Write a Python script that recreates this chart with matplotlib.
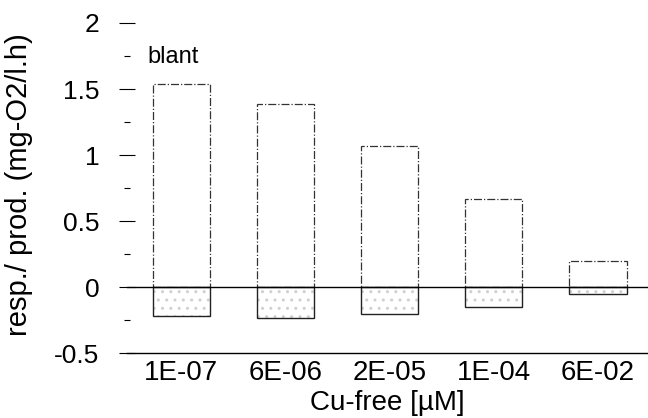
import numpy as np
import matplotlib.pyplot as plt
from matplotlib.ticker import MultipleLocator

#%% data
conc_labels = ['1E-07', '6E-06', '2E-05', '1E-04', '6E-02']
resp_pos = [1.54, 1.39, 1.07, 0.67, 0.20]     # production (above zero)
resp_neg = [-0.22, -0.23, -0.20, -0.15, -0.05]  # respiration (below zero)

plt.rcParams['font.family'] = ['Liberation Sans', 'DejaVu Sans']

fig = plt.figure(figsize=(6.48, 4.18), dpi=100)
ax = fig.add_axes([0.196, 0.155, 0.804, 0.79])

x = np.arange(len(conc_labels))
w = 0.55
ax.bar(x, resp_pos, width=w, facecolor='white', edgecolor='#333333',
       linewidth=0.9, linestyle='-.')
# faint stipple inside the negative bars, then the outline on top
ax.bar(x, resp_neg, width=w, facecolor='white', edgecolor='#d0d0d0',
       linewidth=0, hatch='..')
ax.bar(x, resp_neg, width=w, facecolor='none', edgecolor='#222222',
       linewidth=1.0)

ax.axhline(0, color='black', linewidth=1.0)

ax.set_xlim(-0.52, 4.48)
ax.set_ylim(-0.5, 2.0)
ax.set_xticks(x)
ax.set_xticklabels(conc_labels, fontsize=20)
ax.yaxis.set_minor_locator(MultipleLocator(0.25))
ax.set_yticks([-0.5, 0, 0.5, 1, 1.5, 2])
ax.set_yticklabels(['-0.5', '0', '0.5', '1', '1.5', '2'], fontsize=19)
ax.tick_params(axis='y', which='major', direction='inout', length=12, width=0.8, pad=14)
ax.tick_params(axis='y', which='minor', direction='inout', length=4, width=0.8)
ax.tick_params(axis='x', length=0, pad=5)

for s in ['left', 'right', 'top']:
    ax.spines[s].set_visible(False)
ax.spines['bottom'].set_linewidth(1.0)

ax.text(-0.32, 1.74, 'blant', fontsize=17, ha='left', va='center')

ax.set_xlabel('Cu-free [µM]', fontsize=20, labelpad=3)
ax.set_ylabel('resp./ prod. (mg-O2/l.h)', fontsize=21)
ax.yaxis.set_label_coords(-0.18, 0.51)

fig.savefig('out.png', dpi=100)
